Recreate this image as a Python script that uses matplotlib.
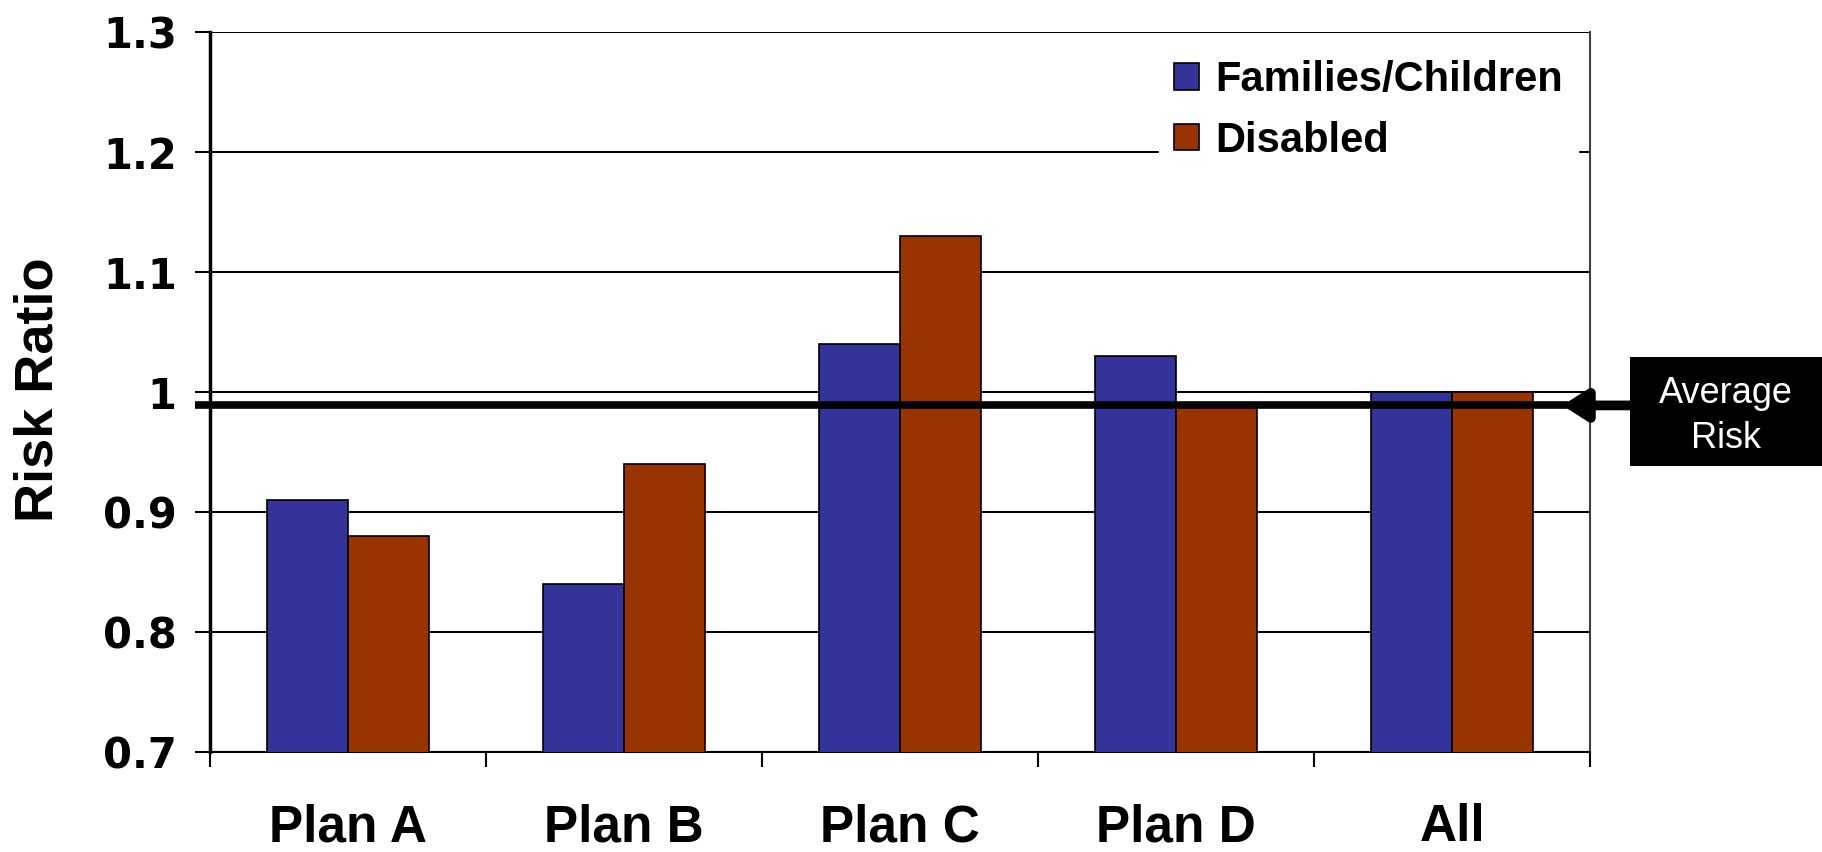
import numpy as np
import matplotlib
matplotlib.use('Agg')
import matplotlib.pyplot as plt
from matplotlib.patches import Rectangle
from matplotlib.ticker import FixedLocator

plans = ['Plan A', 'Plan B', 'Plan C', 'Plan D', 'All']
families = [0.91, 0.84, 1.04, 1.03, 1.00]
disabled = [0.88, 0.94, 1.13, 0.99, 1.00]
average_risk = 0.989
y_ticks = [0.7, 0.8, 0.9, 1.0, 1.1, 1.2, 1.3]
y_labels = ['0.7', '0.8', '0.9', '1', '1.1', '1.2', '1.3']

blue = '#333399'
red = '#993300'

fig = plt.figure(figsize=(18.22, 8.52), dpi=100)
ax = fig.add_axes([0.1153, 0.1174, 0.7574, 0.8445])

X = np.arange(len(plans))
w = 0.295
ax.bar(X - w / 2, families, w, color=blue, edgecolor='black', linewidth=1.2,
       label='Families/Children', zorder=3)
ax.bar(X + w / 2, disabled, w, color=red, edgecolor='black', linewidth=1.2,
       label='Disabled', zorder=3)

ax.set_xlim(-0.5, len(plans) - 0.5)
ax.set_ylim(0.7, 1.3)

# y axis
ax.set_yticks(y_ticks)
ax.set_yticklabels(y_labels, fontfamily='DejaVu Sans', fontweight='bold', fontsize=30)
ax.tick_params(axis='y', direction='out', length=11, width=1.5, pad=13)
ax.yaxis.grid(True, color='black', linewidth=1.5, zorder=0)
ax.set_axisbelow(True)

# x axis: labels at centers, tick marks at category boundaries
ax.set_xticks(X)
ax.set_xticklabels(plans, fontfamily='Liberation Sans', fontweight='bold', fontsize=37)
ax.tick_params(axis='x', which='major', length=0, pad=37)
ax.xaxis.set_minor_locator(FixedLocator(np.arange(-0.5, len(plans), 1.0)))
ax.tick_params(axis='x', which='minor', direction='out', length=11, width=1.5)

ax.spines['left'].set_linewidth(2.5)
ax.spines['bottom'].set_linewidth(1.5)
ax.spines['top'].set_visible(False)
ax.spines['right'].set_color('#404040')
ax.spines['right'].set_linewidth(1.5)

ax.set_ylabel('Risk Ratio', fontfamily='Liberation Sans', fontweight='bold', fontsize=39)
ax.yaxis.set_label_coords(-0.106, 0.503)

# average risk line + arrow + box
ax.plot([-0.555, 4.42], [average_risk, average_risk], color='black', linewidth=5.5,
        clip_on=False, zorder=4, solid_capstyle='butt')
ax.annotate('', xy=(4.40, average_risk), xytext=(4.66, average_risk),
            arrowprops=dict(arrowstyle='-|>,head_length=1.4,head_width=0.9',
                            color='black', lw=7, shrinkA=0, shrinkB=0),
            annotation_clip=False, zorder=5)
ax.add_patch(Rectangle((1.029, 0.3975), 0.14, 0.1515, transform=ax.transAxes,
                       facecolor='black', edgecolor='none', clip_on=False, zorder=6))
ax.text(1.0986, 0.467, 'Average\nRisk', transform=ax.transAxes, ha='center', va='center',
        color='white', fontfamily='Liberation Sans', fontsize=26, linespacing=1.4,
        zorder=7)

leg = ax.legend(loc='upper left', bbox_to_anchor=(0.6877, 0.982), borderaxespad=0,
                prop=dict(family='Liberation Sans', weight='bold', size=30),
                frameon=True, fancybox=False, edgecolor='white', framealpha=1,
                handlelength=0.6, handleheight=0.6, handletextpad=0.4,
                labelspacing=0.5, borderpad=0.35)
leg.set_zorder(8)

fig.savefig('out.png', dpi=100)
